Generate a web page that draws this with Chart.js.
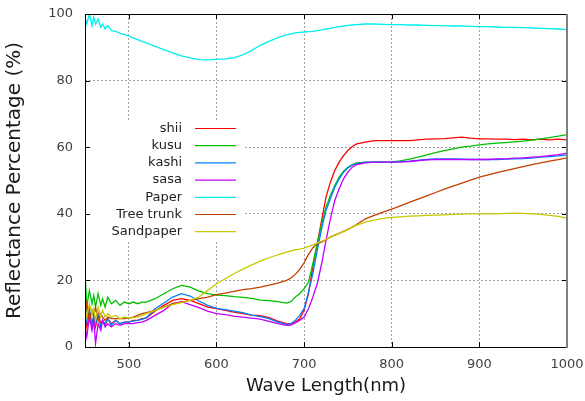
<!DOCTYPE html>
<html>
<head>
<meta charset="utf-8">
<title>Reflectance spectra</title>
<script src="https://cdn.jsdelivr.net/npm/chart.js@4.4.1/dist/chart.umd.min.js"></script>
<style>
  html, body { margin: 0; padding: 0; background: #ffffff; }
  canvas { display: block; }
</style>
</head>
<body>
<canvas id="spectrumChart" width="585" height="401"></canvas>
<script>
// wavelength samples (nm), denser where the curves are noisy or steep
const wavelengths = [
  450, 452, 455, 458, 460, 462, 465, 468, 470, 473,
  476, 480, 485, 490, 495, 500, 505, 510, 515, 520,
  530, 540, 550, 560, 570, 580, 590, 600, 610, 620,
  630, 640, 650, 660, 670, 680, 685, 690, 695, 700,
  705, 710, 715, 720, 725, 730, 735, 740, 745, 750,
  755, 760, 770, 780, 790, 800, 810, 820, 830, 840,
  850, 860, 870, 880, 890, 900, 910, 920, 930, 940,
  950, 960, 970, 980, 990, 1000,
];

// reflectance (%) for each sample
const shii = [
  11, 6, 10, 7, 9, 6, 10, 7, 8, 6.5,
  8.5, 7, 8, 7, 7.5, 7.5, 8, 8, 8.5, 8.7,
  10.8, 12.5, 14, 14.5, 14, 13, 12, 11.5, 11, 10.5,
  10, 9.6, 9.4, 8.8, 7.8, 7, 7, 7.5, 8.5, 11,
  16, 24, 31, 38, 45, 49.5, 53, 55.5, 57.5, 59,
  60.2, 61, 61.5, 62, 62, 62, 62, 62, 62.2, 62.4,
  62.5, 62.6, 62.8, 63, 62.7, 62.5, 62.5, 62.4, 62.4, 62.3,
  62.4, 62.2, 62.4, 62.2, 62.4, 62.2,
];

const kusu = [
  23, 12, 17, 13, 15.5, 12, 16, 12.5, 14.5, 12,
  15, 13, 14, 12.5, 13.5, 13, 13.5, 13, 13.5, 13.5,
  14.5, 16, 17.5, 18.5, 18, 16.8, 16, 15.6, 15.4, 15.1,
  14.9, 14.6, 14.1, 13.9, 13.6, 13.2, 13.6, 15, 16, 17.5,
  19.5, 25, 31, 37, 42, 45.5, 48.5, 51, 52.8, 54,
  54.8, 55.3, 55.5, 55.5, 55.5, 55.6, 55.9, 56.4, 57, 57.7,
  58.4, 59, 59.5, 60, 60.3, 60.7, 61, 61.2, 61.4, 61.6,
  61.8, 62.1, 62.5, 62.9, 63.3, 63.8,
];

const kashi = [
  14, 8, 12, 6, 10, 7, 9.5, 6, 8, 7,
  8.5, 6.5, 8, 7, 7.5, 7.5, 7.8, 8, 8.3, 8.8,
  11.5, 13.2, 15, 16, 15.3, 13.8, 12.5, 11.6, 11.2, 10.8,
  10.3, 9.6, 9.1, 8.5, 7.5, 6.8, 7, 8, 9.5, 11.5,
  16.5, 22, 29, 35.5, 41, 44.5, 48, 50.5, 52.5, 53.8,
  54.6, 55, 55.5, 55.5, 55.5, 55.5, 55.7, 55.8, 56, 56.3,
  56.5, 56.5, 56.5, 56.4, 56.3, 56.3, 56.3, 56.3, 56.4, 56.5,
  56.6, 56.7, 57, 57.2, 57.4, 57.7,
];

const sasa = [
  6, 3, 9, 5, 8, 1, 7, 5, 8, 6,
  7, 6, 7, 6.5, 7, 7, 7, 7.3, 7.5, 8,
  9.5, 11, 13, 13.6, 12.7, 11.8, 10.8, 10, 9.7, 9.3,
  9, 8.7, 8.4, 7.7, 7, 6.5, 6.6, 7.2, 8, 9,
  11.5, 15, 19, 25, 32, 38.5, 44, 47.5, 50.5, 52.5,
  54, 54.8, 55.3, 55.5, 55.5, 55.5, 55.5, 55.7, 56, 56.2,
  56.3, 56.3, 56.3, 56.3, 56.3, 56.3, 56.3, 56.5, 56.5, 56.7,
  56.8, 57, 57.2, 57.5, 57.8, 58.2,
];

const paper = [
  99, 97, 100, 96.5, 99, 97, 98.5, 96, 97, 95.5,
  96.5, 95, 94.8, 94.2, 93.8, 93.4, 92.8, 92.3, 91.8, 91.3,
  90.3, 89.3, 88.3, 87.4, 86.8, 86.3, 86.2, 86.4, 86.5, 86.8,
  87.7, 89, 90.6, 91.8, 92.9, 93.7, 94, 94.3, 94.5, 94.6,
  94.7, 94.8, 95, 95.2, 95.5, 95.7, 96, 96.2, 96.4, 96.6,
  96.7, 96.8, 97, 97, 96.9, 96.8, 96.8, 96.7, 96.7, 96.6,
  96.5, 96.5, 96.4, 96.4, 96.3, 96.2, 96.2, 96.1, 96, 96,
  95.9, 95.8, 95.7, 95.6, 95.5, 95.3,
];

const treeTrunk = [
  9, 13, 8, 11, 9, 12, 8, 10, 9, 8,
  9, 8.5, 8.5, 8.5, 8.5, 8.7, 9, 9.5, 10, 10.3,
  11, 12, 13, 13.5, 14, 14.5, 15, 15.7, 16.2, 16.7,
  17.2, 17.5, 18, 18.6, 19.2, 20, 20.7, 21.8, 23.3, 25.3,
  27.8, 29.8, 31, 31.5, 32.2, 33, 33.6, 34.1, 34.7, 35.3,
  36, 36.8, 38.5, 39.5, 40.5, 41.4, 42.4, 43.4, 44.4, 45.4,
  46.4, 47.4, 48.3, 49.2, 50.1, 51, 51.7, 52.4, 53, 53.6,
  54.2, 54.8, 55.3, 55.8, 56.3, 56.8,
];

const sandpaper = [
  12, 9, 13, 10, 11.5, 8, 12, 9, 11, 9,
  10, 9, 9.5, 8.5, 9, 8.7, 8.8, 9, 9.5, 10,
  11, 12, 12.7, 13.3, 14, 15, 17, 19, 20.5, 22,
  23.4, 24.6, 25.8, 26.8, 27.7, 28.5, 28.9, 29.2, 29.4, 29.7,
  30.2, 30.7, 31.2, 31.7, 32.3, 33, 33.5, 34.1, 34.7, 35.3,
  36, 36.6, 37.5, 38.1, 38.6, 38.9, 39.1, 39.3, 39.4, 39.5,
  39.6, 39.7, 39.8, 39.9, 40, 40, 40, 40, 40.1, 40.2,
  40.1, 40, 39.8, 39.5, 39.2, 38.7,
];

const seriesNames = ["shii", "kusu", "kashi", "sasa", "Paper", "Tree trunk", "Sandpaper"];
const seriesValues = [shii, kusu, kashi, sasa, paper, treeTrunk, sandpaper];
const seriesColors = ["#ff0000", "#00c000", "#0080ff", "#c000ff", "#00eeee", "#c04000", "#c8c800"];

const xTicks = [500, 600, 700, 800, 900, 1000];
const yTicks = [0, 20, 40, 60, 80, 100];

const FONT = '"DejaVu Sans", sans-serif';

// white panel plus line samples for the key, placed inside the plot
const keyPlugin = {
  id: "key",
  beforeDatasetsDraw(chart) {
    const { ctx, chartArea } = chart;
    ctx.save();
    ctx.fillStyle = "#ffffff";
    ctx.fillRect(chartArea.left + 1, chartArea.top + 106, 157, 122);
    ctx.restore();
  },
  afterDraw(chart) {
    const { ctx, chartArea } = chart;
    const textRight = chartArea.left + 97;
    ctx.save();
    ctx.font = "13px " + FONT;
    ctx.textAlign = "right";
    ctx.textBaseline = "middle";
    chart.data.datasets.forEach((ds, i) => {
      const y = chartArea.top + 114.5 + i * 17.2;
      ctx.fillStyle = "#222222";
      ctx.fillText(ds.label, textRight, y);
      ctx.strokeStyle = ds.borderColor;
      ctx.lineWidth = 1.2;
      ctx.beginPath();
      ctx.moveTo(textRight + 13, y);
      ctx.lineTo(textRight + 54, y);
      ctx.stroke();
    });
    ctx.restore();
  },
};

// plot frame with inward ticks on all four sides
const framePlugin = {
  id: "frame",
  afterDraw(chart) {
    const { ctx, chartArea, scales } = chart;
    const { left, right, top, bottom } = chartArea;
    const len = 5;
    ctx.save();
    ctx.strokeStyle = "#000000";
    ctx.lineWidth = 1;
    ctx.beginPath();
    xTicks.forEach((v) => {
      const x = Math.round(scales.x.getPixelForValue(v)) + 0.5;
      ctx.moveTo(x, bottom);
      ctx.lineTo(x, bottom - len);
      ctx.moveTo(x, top);
      ctx.lineTo(x, top + len);
    });
    yTicks.forEach((v) => {
      const y = Math.round(scales.y.getPixelForValue(v)) + 0.5;
      ctx.moveTo(left, y);
      ctx.lineTo(left + len, y);
      ctx.moveTo(right, y);
      ctx.lineTo(right - len, y);
    });
    ctx.stroke();

    ctx.beginPath();
    ctx.moveTo(right, top + 0.5);
    ctx.lineTo(left + 0.5, top + 0.5);
    ctx.lineTo(left + 0.5, bottom + 0.5);
    ctx.lineTo(right, bottom + 0.5);
    ctx.stroke();

    ctx.strokeStyle = "#808080";
    ctx.lineWidth = 2;
    ctx.beginPath();
    ctx.moveTo(right, top);
    ctx.lineTo(right, bottom + 1);
    ctx.stroke();
    ctx.restore();
  },
};

// fixed axis boxes so the plot area lands where the layout padding puts it
function fitAxis(size, horizontal) {
  return (scale) => {
    if (horizontal) scale.height = size;
    else scale.width = size;
    scale.paddingLeft = 0;
    scale.paddingRight = 0;
    scale.paddingTop = 0;
    scale.paddingBottom = 0;
  };
}

const ctx = document.getElementById("spectrumChart");

new Chart(ctx, {
  type: "line",
  data: {
    datasets: seriesNames.map((name, i) => ({
      label: name,
      data: wavelengths.map((w, j) => ({ x: w, y: seriesValues[i][j] })),
      borderColor: seriesColors[i],
      backgroundColor: seriesColors[i],
      borderWidth: 1.3,
      pointRadius: 0,
      tension: 0,
      fill: false,
      order: seriesNames.length - i,
    })),
  },
  options: {
    responsive: false,
    animation: false,
    layout: {
      padding: { left: 0, right: 18, top: 14, bottom: 0 },
    },
    plugins: {
      legend: { display: false },
      tooltip: { enabled: false },
    },
    scales: {
      x: {
        type: "linear",
        min: 450,
        max: 1000,
        afterFit: fitAxis(54, true),
        afterBuildTicks(scale) {
          scale.ticks = xTicks.map((v) => ({ value: v }));
        },
        grid: { color: "#a0a0a0", drawTicks: false },
        border: { display: false, dash: [2, 2] },
        ticks: {
          padding: 10,
          maxRotation: 0,
          color: "#404040",
          font: { family: FONT, size: 13 },
          callback: (v) => String(v),
        },
        title: {
          display: true,
          text: "Wave Length(nm)",
          color: "#1a1a1a",
          font: { family: FONT, size: 18 },
          padding: { top: 0, bottom: 4 },
        },
      },
      y: {
        min: 0,
        max: 100,
        afterFit: fitAxis(85, false),
        afterBuildTicks(scale) {
          scale.ticks = yTicks.map((v) => ({ value: v }));
        },
        grid: { color: "#a0a0a0", drawTicks: false },
        border: { display: false, dash: [2, 2] },
        ticks: {
          padding: 12,
          color: "#404040",
          font: { family: FONT, size: 13 },
          callback: (v) => String(v),
        },
        title: {
          display: true,
          text: "Reflectance Percentage (%)",
          color: "#1a1a1a",
          font: { family: FONT, size: 20 },
          padding: { top: 3, bottom: 0 },
        },
      },
    },
  },
  plugins: [keyPlugin, framePlugin],
});
</script>
</body>
</html>
